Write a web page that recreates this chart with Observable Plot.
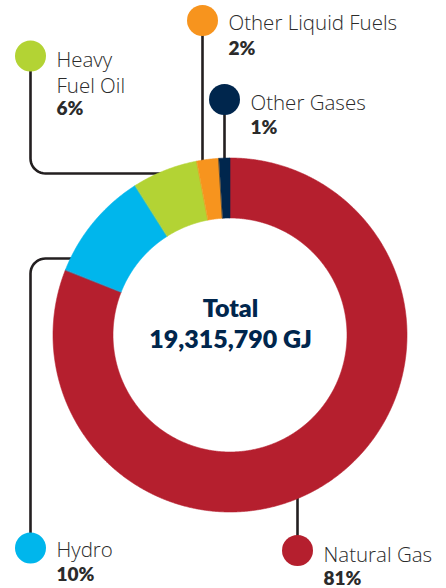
<!DOCTYPE html>
<html>
<head>
<meta charset="utf-8">
<script src="https://cdn.jsdelivr.net/npm/d3@7"></script>
<script src="https://cdn.jsdelivr.net/npm/@observablehq/plot@0.6"></script>
<style>
  html, body { margin: 0; padding: 0; background: #fff; }
</style>
</head>
<body>
<div id="chart"></div>
<script>
// ---- data ----
const categories = ["Natural Gas", "Hydro", "Heavy Fuel Oil", "Other Liquid Fuels", "Other Gases"];
const labelNames = ["Natural Gas", "Hydro", "Heavy\nFuel Oil", "Other Liquid Fuels", "Other Gases"];
const shares = [81, 10, 6, 2, 1];
const colors = ["#b51f2e", "#00b6ec", "#b3d334", "#f7941e", "#00264d"];
const totalGJ = 19315790;
const totalLabel = "Total";
const unit = "GJ";

// ---- layout (not data) ----
const W = 446, H = 588;
const cx = 230, cy = 335, rOuter = 177, rInner = 117;
// annotation layout: dot position, leader elbow y (null = straight vertical to ring), cap-top of name and pct
const annot = [
  {dot: [297, 550], elbowY: null, nameTop: 545.5, pctTop: 570.5},
  {dot: [30, 547.5], elbowY: 258, nameTop: 541, pctTop: 566.5},
  {dot: [30, 55.5], elbowY: 173, nameTop: 50.5, pctTop: 100.5},
  {dot: [202, 20], elbowY: null, nameTop: 14, pctTop: 40.5},
  {dot: [224, 99], elbowY: null, nameTop: 94, pctTop: 120}
];
const ink = "#231f20";
const labelInk = "#2b2b2b";
const navy = "#00264d";

// ---- derived geometry ----
const pie = d3.pie().sort(null).value(d => d.share)(categories.map((name, i) => ({name, share: shares[i]})));
const ringPts = [];
for (const p of pie) {
  const n = Math.max(4, Math.ceil((p.endAngle - p.startAngle) / 0.005));
  for (let k = 0; k <= n; k++) {
    const a = p.startAngle + (p.endAngle - p.startAngle) * k / n;
    ringPts.push({
      name: p.data.name,
      x1: cx + rOuter * Math.sin(a), y1: cy - rOuter * Math.cos(a),
      x2: cx + rInner * Math.sin(a), y2: cy - rInner * Math.cos(a)
    });
  }
}

const leaderPts = [];
const cornerR = 15;
annot.forEach((a, i) => {
  const name = categories[i];
  const [dx, dy] = a.dot;
  if (a.elbowY == null) {
    const h = Math.sqrt(rOuter * rOuter - (dx - cx) * (dx - cx));
    const yEnd = dy < cy ? cy - h + 3 : cy + h - 3;
    leaderPts.push({name, x: dx, y: dy}, {name, x: dx, y: yEnd});
  } else {
    const ey = a.elbowY;
    const xEnd = cx - Math.sqrt(rOuter * rOuter - (ey - cy) * (ey - cy)) + 3;
    const dir = ey > dy ? 1 : -1;
    leaderPts.push({name, x: dx, y: dy});
    const ccx = dx + cornerR, ccy = ey - dir * cornerR;
    for (let k = 0; k <= 10; k++) {
      const t = (Math.PI / 2) * k / 10;
      leaderPts.push({name, x: ccx - cornerR * Math.cos(t), y: ccy + dir * cornerR * Math.sin(t)});
    }
    leaderPts.push({name, x: xEnd, y: ey});
  }
});

const labelData = categories.map((name, i) => ({
  name, label: labelNames[i], pct: shares[i] + "%",
  dotX: annot[i].dot[0], dotY: annot[i].dot[1],
  x: annot[i].dot[0] + 26, yName: annot[i].nameTop, yPct: annot[i].pctTop
}));

const fmt = d3.format(",");

const chart = Plot.plot({
  width: W, height: H, margin: 0,
  x: {domain: [0, W], range: [0, W], axis: null},
  y: {domain: [0, H], range: [0, H], axis: null},
  color: {domain: categories, range: colors},
  style: {background: "#fff", fontFamily: "Lato, sans-serif"},
  marks: [
    Plot.line(leaderPts, {x: "x", y: "y", z: "name", stroke: ink, strokeWidth: 2.6, strokeLinecap: "butt", curve: "linear"}),
    Plot.area(ringPts, {x1: "x1", y1: "y1", x2: "x2", y2: "y2", z: "name", fill: "name", stroke: "name", strokeWidth: 0.6}),
    Plot.dot(labelData, {x: "dotX", y: "dotY", r: 15.5, fill: "name", stroke: "none"}),
    Plot.text(labelData, {x: "x", y: "yName", text: "label", textAnchor: "start", lineAnchor: "top", lineHeight: 1.27, fontSize: 20.5, fontWeight: 300, fontFamily: "'Open Sans', sans-serif", fill: labelInk, dy: -3}),
    Plot.text(labelData, {x: "x", y: "yPct", text: "pct", textAnchor: "start", lineAnchor: "top", fontSize: 19, fontWeight: 800, fill: labelInk}),
    Plot.text([totalLabel], {x: () => cx, y: () => 299, text: d => d, textAnchor: "middle", lineAnchor: "top", fontSize: 25, fontWeight: 800, fill: navy, style: "letter-spacing:0.6px"}),
    Plot.text([totalGJ], {x: () => cx, y: () => 330, text: d => fmt(d) + " " + unit, textAnchor: "middle", lineAnchor: "top", fontSize: 25, fontWeight: 800, fill: navy})
  ]
});
document.getElementById("chart").append(chart);
</script>
</body>
</html>
